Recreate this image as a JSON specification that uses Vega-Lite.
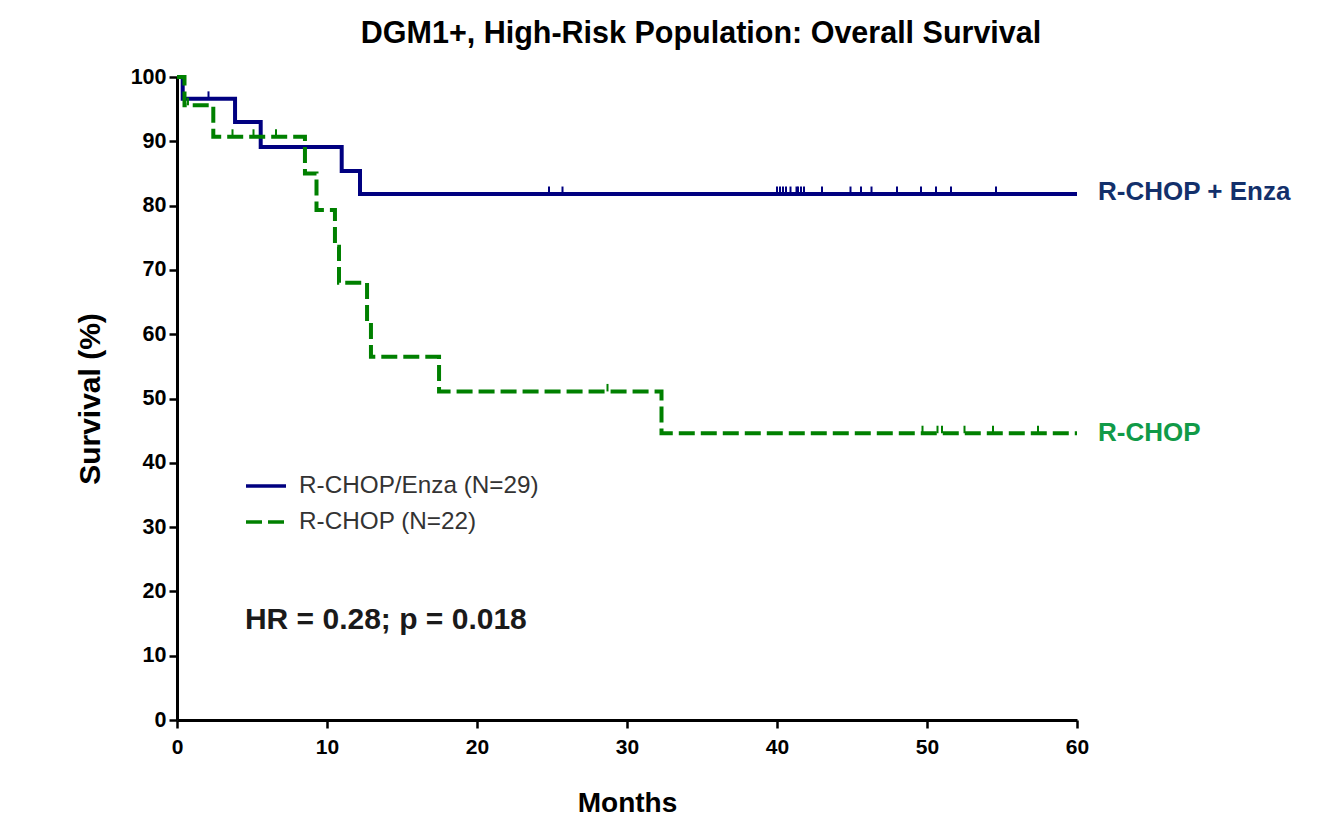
{
  "$schema": "https://vega.github.io/schema/vega-lite/v6.json",
  "autosize": "none",
  "width": 900,
  "height": 643,
  "padding": {"left": 177, "top": 77, "right": 244, "bottom": 105},
  "background": "white",
  "config": {
    "view": {"stroke": null},
    "font": "Liberation Sans",
    "axisX": {
      "grid": false,
      "labelFlush": false,
      "domainColor": "#000000",
      "domainWidth": 3,
      "tickColor": "#000000",
      "tickWidth": 2.5,
      "tickSize": 8,
      "labelFont": "Liberation Sans",
      "labelFontSize": 21,
      "labelFontWeight": "bold",
      "labelColor": "#000000",
      "labelPadding": 8,
      "titleFont": "Liberation Sans",
      "titleFontSize": 28,
      "titleFontWeight": "bold",
      "titleColor": "#000000",
      "titlePadding": 32
    },
    "axisY": {
      "grid": false,
      "domainColor": "#000000",
      "domainWidth": 3,
      "tickColor": "#000000",
      "tickWidth": 2.5,
      "tickSize": 8,
      "labelFont": "Liberation Sans",
      "labelFontSize": 21.5,
      "labelFontWeight": "bold",
      "labelColor": "#000000",
      "labelPadding": 3,
      "titleFont": "Liberation Sans",
      "titleFontSize": 30,
      "titleFontWeight": "bold",
      "titleColor": "#000000",
      "titlePadding": 25
    }
  },
  "title": {
    "text": "DGM1+, High-Risk Population: Overall Survival",
    "font": "Liberation Sans",
    "fontSize": 30.5,
    "fontWeight": "bold",
    "color": "#000000",
    "anchor": "middle",
    "dx": 74,
    "baseline": "alphabetic",
    "offset": -7
  },
  "datasets": {
    "curves": [
      {"series": "R-CHOP/Enza (N=29)", "month": 0, "survival": 100},
      {"series": "R-CHOP/Enza (N=29)", "month": 0.38, "survival": 96.6},
      {"series": "R-CHOP/Enza (N=29)", "month": 3.87, "survival": 93.0},
      {"series": "R-CHOP/Enza (N=29)", "month": 5.58, "survival": 89.1},
      {"series": "R-CHOP/Enza (N=29)", "month": 10.98, "survival": 85.4},
      {"series": "R-CHOP/Enza (N=29)", "month": 12.2, "survival": 81.8},
      {"series": "R-CHOP/Enza (N=29)", "month": 60, "survival": 81.8},
      {"series": "R-CHOP (N=22)", "month": 0, "survival": 100},
      {"series": "R-CHOP (N=22)", "month": 0.5, "survival": 95.6},
      {"series": "R-CHOP (N=22)", "month": 2.42, "survival": 90.7},
      {"series": "R-CHOP (N=22)", "month": 8.53, "survival": 85.0},
      {"series": "R-CHOP (N=22)", "month": 9.3, "survival": 79.3},
      {"series": "R-CHOP (N=22)", "month": 10.53, "survival": 73.6},
      {"series": "R-CHOP (N=22)", "month": 10.8, "survival": 68.0},
      {"series": "R-CHOP (N=22)", "month": 12.67, "survival": 62.0},
      {"series": "R-CHOP (N=22)", "month": 12.93, "survival": 56.5},
      {"series": "R-CHOP (N=22)", "month": 17.47, "survival": 51.1},
      {"series": "R-CHOP (N=22)", "month": 32.3, "survival": 44.6},
      {"series": "R-CHOP (N=22)", "month": 60, "survival": 44.6}
    ],
    "censors": [
      {"series": "R-CHOP/Enza (N=29)", "month": 2.1, "survival": 96.6},
      {"series": "R-CHOP/Enza (N=29)", "month": 24.8, "survival": 81.8},
      {"series": "R-CHOP/Enza (N=29)", "month": 25.7, "survival": 81.8},
      {"series": "R-CHOP/Enza (N=29)", "month": 40.0, "survival": 81.8},
      {"series": "R-CHOP/Enza (N=29)", "month": 40.2, "survival": 81.8},
      {"series": "R-CHOP/Enza (N=29)", "month": 40.4, "survival": 81.8},
      {"series": "R-CHOP/Enza (N=29)", "month": 40.6, "survival": 81.8},
      {"series": "R-CHOP/Enza (N=29)", "month": 40.9, "survival": 81.8},
      {"series": "R-CHOP/Enza (N=29)", "month": 41.3, "survival": 81.8},
      {"series": "R-CHOP/Enza (N=29)", "month": 41.4, "survival": 81.8},
      {"series": "R-CHOP/Enza (N=29)", "month": 41.6, "survival": 81.8},
      {"series": "R-CHOP/Enza (N=29)", "month": 41.8, "survival": 81.8},
      {"series": "R-CHOP/Enza (N=29)", "month": 43.0, "survival": 81.8},
      {"series": "R-CHOP/Enza (N=29)", "month": 44.9, "survival": 81.8},
      {"series": "R-CHOP/Enza (N=29)", "month": 45.6, "survival": 81.8},
      {"series": "R-CHOP/Enza (N=29)", "month": 46.3, "survival": 81.8},
      {"series": "R-CHOP/Enza (N=29)", "month": 48.0, "survival": 81.8},
      {"series": "R-CHOP/Enza (N=29)", "month": 49.6, "survival": 81.8},
      {"series": "R-CHOP/Enza (N=29)", "month": 50.6, "survival": 81.8},
      {"series": "R-CHOP/Enza (N=29)", "month": 51.6, "survival": 81.8},
      {"series": "R-CHOP/Enza (N=29)", "month": 54.6, "survival": 81.8},
      {"series": "R-CHOP (N=22)", "month": 0.73, "survival": 95.6},
      {"series": "R-CHOP (N=22)", "month": 3.7, "survival": 90.7},
      {"series": "R-CHOP (N=22)", "month": 5.1, "survival": 90.7},
      {"series": "R-CHOP (N=22)", "month": 6.6, "survival": 90.7},
      {"series": "R-CHOP (N=22)", "month": 28.7, "survival": 51.1},
      {"series": "R-CHOP (N=22)", "month": 49.7, "survival": 44.6},
      {"series": "R-CHOP (N=22)", "month": 50.7, "survival": 44.6},
      {"series": "R-CHOP (N=22)", "month": 51.0, "survival": 44.6},
      {"series": "R-CHOP (N=22)", "month": 52.5, "survival": 44.6},
      {"series": "R-CHOP (N=22)", "month": 54.4, "survival": 44.6},
      {"series": "R-CHOP (N=22)", "month": 57.4, "survival": 44.6}
    ],
    "endLabels": [
      {"label": "R-CHOP + Enza", "series": "R-CHOP/Enza (N=29)", "month": 60, "survival": 81.8},
      {"label": "R-CHOP", "series": "R-CHOP (N=22)", "month": 60, "survival": 44.6}
    ],
    "notes": [
      {"note": "HR = 0.28; p = 0.018", "month": 4.53, "survival": 15.5}
    ]
  },
  "layer": [
    {
      "data": {"name": "curves"},
      "mark": {"type": "line", "interpolate": "step-after", "strokeWidth": 4, "strokeCap": "butt"},
      "encoding": {
        "x": {
          "field": "month",
          "type": "quantitative",
          "scale": {"domain": [0, 60], "nice": false, "zero": false},
          "axis": {"title": "Months", "values": [0, 10, 20, 30, 40, 50, 60]}
        },
        "y": {
          "field": "survival",
          "type": "quantitative",
          "scale": {"domain": [0, 100], "nice": false},
          "axis": {"title": "Survival (%)", "values": [0, 10, 20, 30, 40, 50, 60, 70, 80, 90, 100]}
        },
        "color": {
          "field": "series",
          "type": "nominal",
          "sort": ["R-CHOP/Enza (N=29)", "R-CHOP (N=22)"],
          "scale": {"domain": ["R-CHOP/Enza (N=29)", "R-CHOP (N=22)"], "range": ["#000080", "#008000"]},
          "legend": {
            "title": null,
            "orient": "none",
            "legendX": 67,
            "legendY": 387,
            "padding": 0,
            "symbolType": "stroke",
            "symbolSize": 1600,
            "symbolStrokeWidth": 3.5,
            "labelFont": "Liberation Sans",
            "labelFontSize": 24.3,
            "labelColor": "#333333",
            "labelOffset": 11,
            "labelLimit": 500,
            "rowPadding": 1
          }
        },
        "strokeDash": {
          "field": "series",
          "type": "nominal",
          "sort": ["R-CHOP/Enza (N=29)", "R-CHOP (N=22)"],
          "scale": {"domain": ["R-CHOP/Enza (N=29)", "R-CHOP (N=22)"], "range": [[1, 0], [16, 6]]},
          "legend": {
            "title": null,
            "orient": "none",
            "legendX": 67,
            "legendY": 387,
            "padding": 0,
            "symbolType": "stroke",
            "symbolSize": 1600,
            "symbolStrokeWidth": 3.5,
            "labelFont": "Liberation Sans",
            "labelFontSize": 24.3,
            "labelColor": "#333333",
            "labelOffset": 11,
            "labelLimit": 500,
            "rowPadding": 1
          }
        }
      }
    },
    {
      "data": {"name": "censors"},
      "transform": [{"filter": "datum.series === 'R-CHOP/Enza (N=29)'"}],
      "mark": {"type": "point", "shape": "M0,-1L0,0", "size": 225, "filled": false, "stroke": "#000080", "strokeWidth": 2, "opacity": 1},
      "encoding": {
        "x": {"field": "month", "type": "quantitative"},
        "y": {"field": "survival", "type": "quantitative"}
      }
    },
    {
      "data": {"name": "censors"},
      "transform": [{"filter": "datum.series === 'R-CHOP (N=22)'"}],
      "mark": {"type": "point", "shape": "M0,-1L0,0", "size": 225, "filled": false, "stroke": "#008000", "strokeWidth": 2, "opacity": 1},
      "encoding": {
        "x": {"field": "month", "type": "quantitative"},
        "y": {"field": "survival", "type": "quantitative"}
      }
    },
    {
      "data": {"name": "endLabels"},
      "transform": [{"filter": "datum.series === 'R-CHOP/Enza (N=29)'"}],
      "mark": {"type": "text", "align": "left", "baseline": "middle", "dx": 21, "dy": -2, "font": "Liberation Sans", "fontSize": 26, "fontWeight": "bold", "color": "#13306b"},
      "encoding": {
        "x": {"field": "month", "type": "quantitative"},
        "y": {"field": "survival", "type": "quantitative"},
        "text": {"field": "label"}
      }
    },
    {
      "data": {"name": "endLabels"},
      "transform": [{"filter": "datum.series === 'R-CHOP (N=22)'"}],
      "mark": {"type": "text", "align": "left", "baseline": "middle", "dx": 21, "font": "Liberation Sans", "fontSize": 26, "fontWeight": "bold", "color": "#119a48"},
      "encoding": {
        "x": {"field": "month", "type": "quantitative"},
        "y": {"field": "survival", "type": "quantitative"},
        "text": {"field": "label"}
      }
    },
    {
      "data": {"name": "notes"},
      "mark": {"type": "text", "align": "left", "baseline": "middle", "font": "Liberation Sans", "fontSize": 30, "fontWeight": "bold", "color": "#1a1a1a"},
      "encoding": {
        "x": {"field": "month", "type": "quantitative"},
        "y": {"field": "survival", "type": "quantitative"},
        "text": {"field": "note"}
      }
    }
  ]
}
